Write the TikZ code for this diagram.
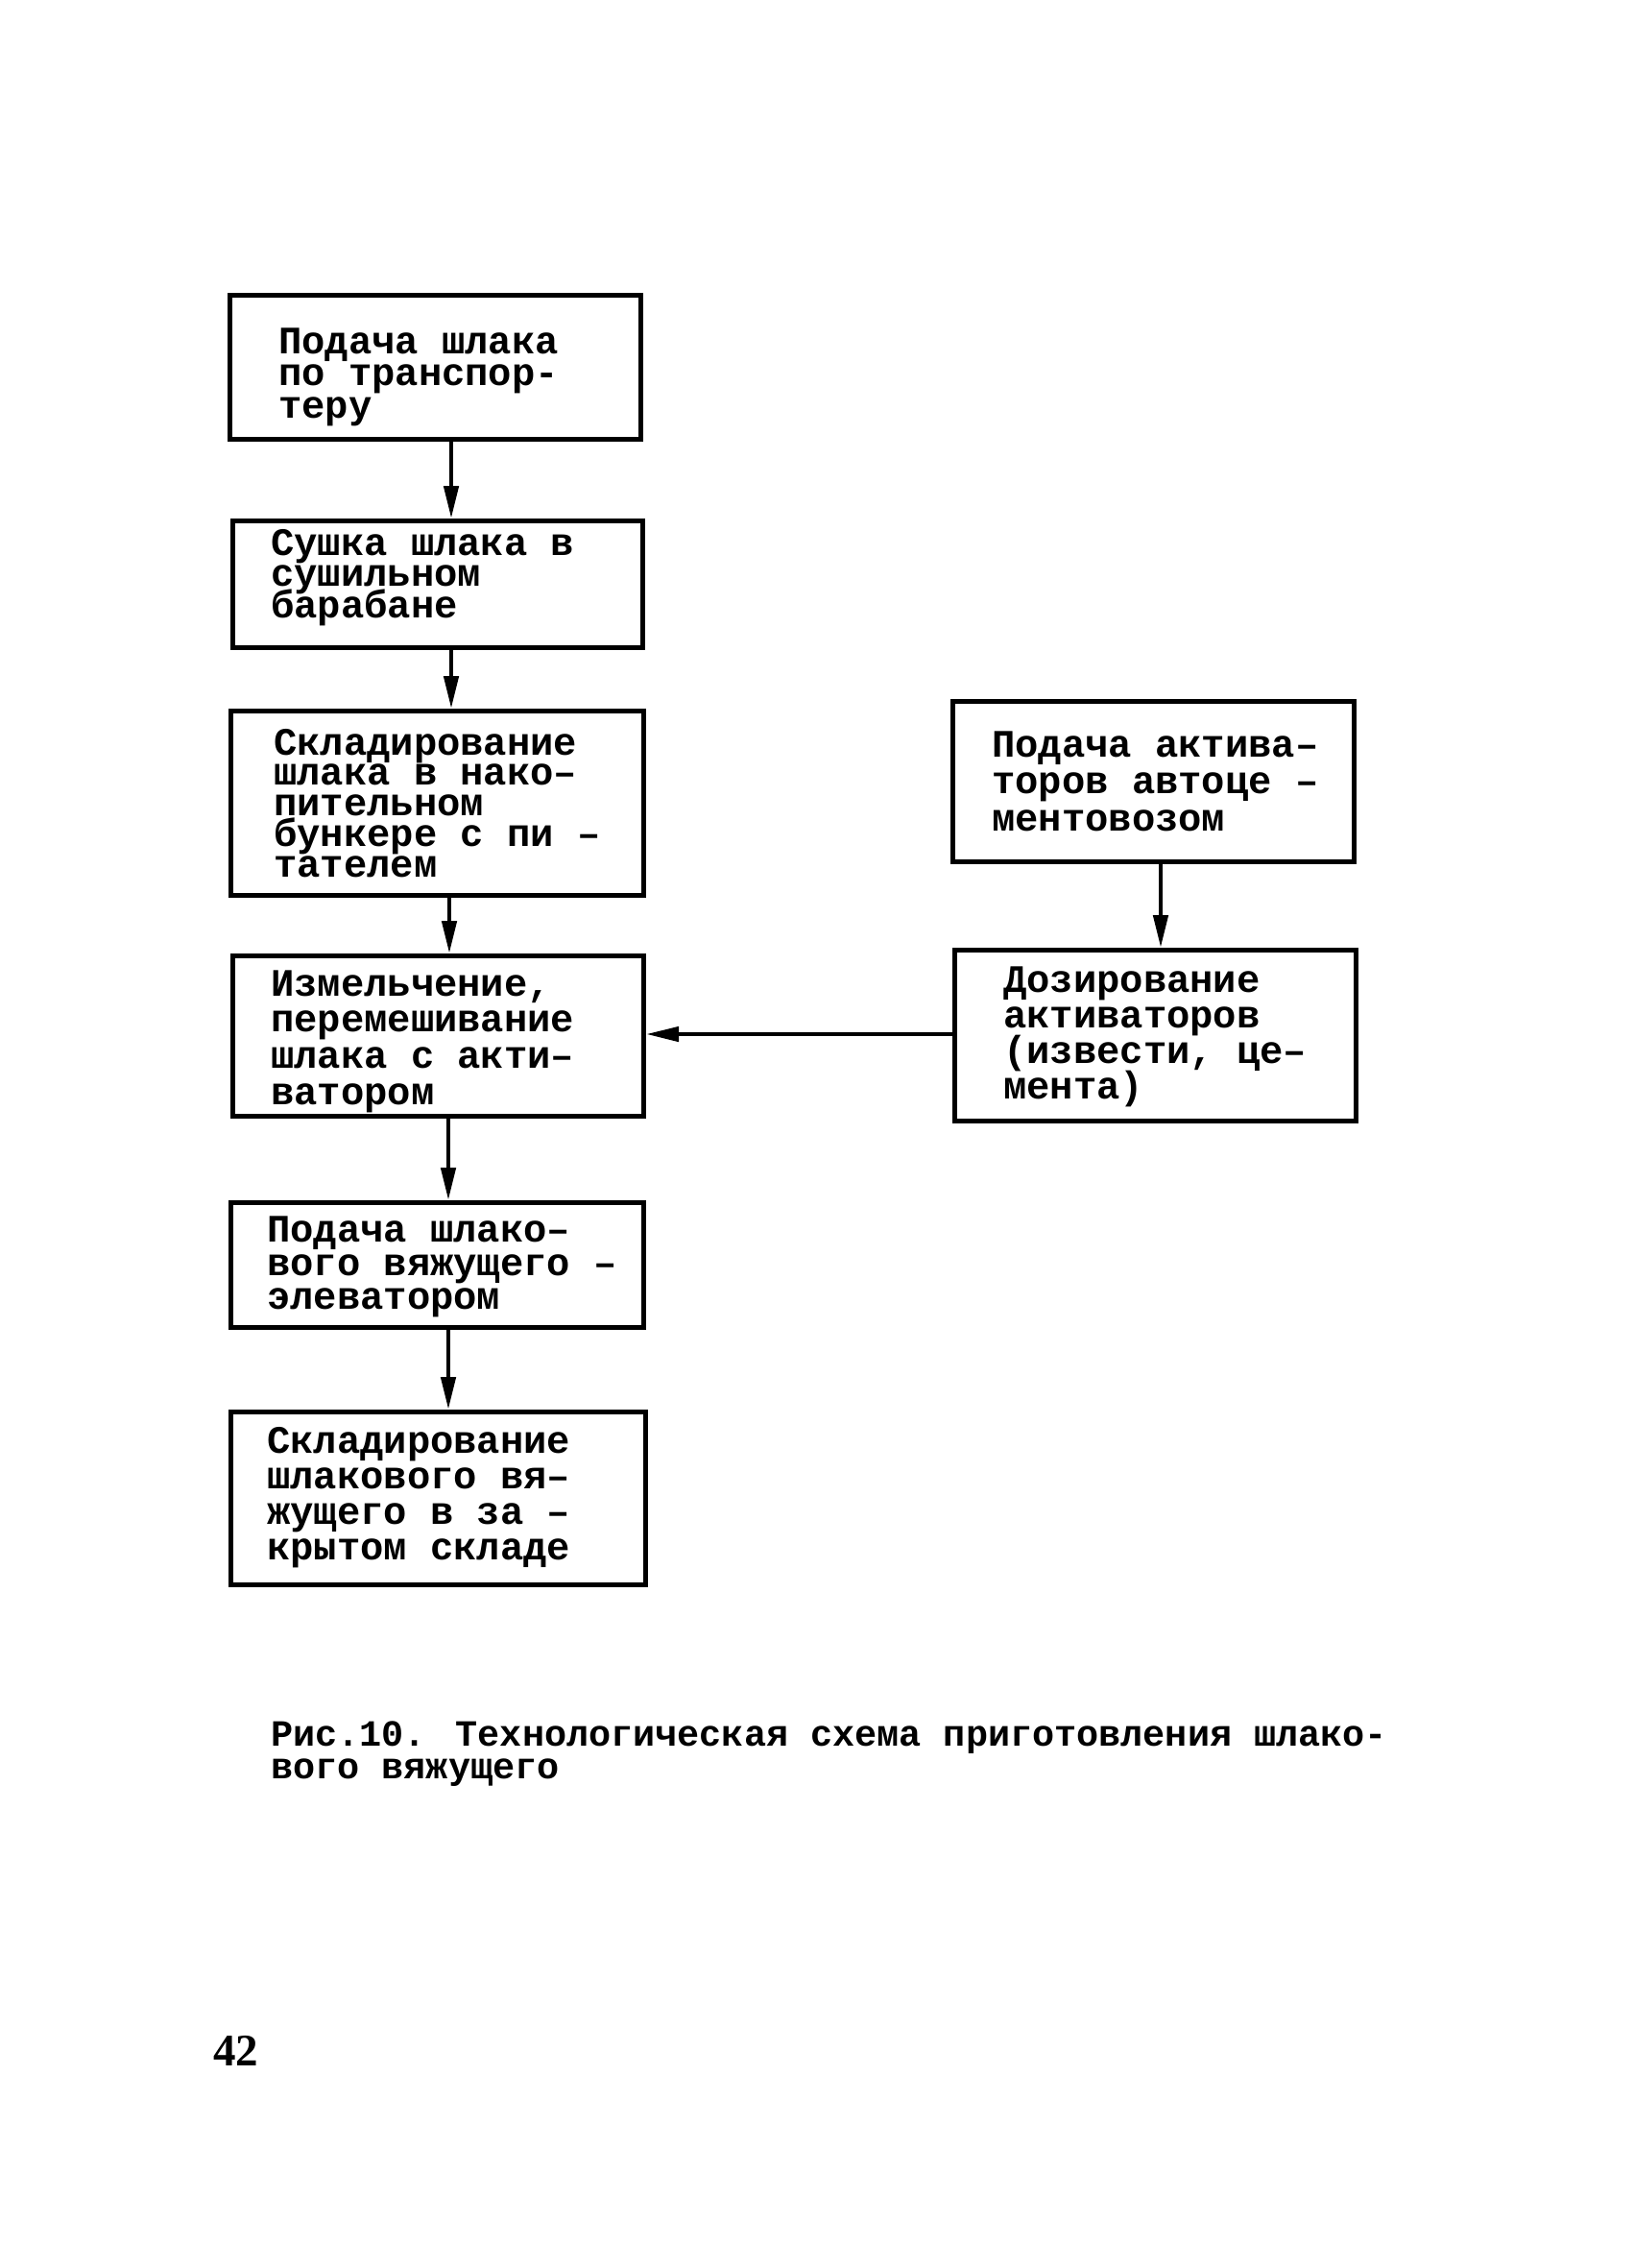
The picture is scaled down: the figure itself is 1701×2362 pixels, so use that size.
\documentclass[tikz,border=0pt]{standalone}
\usepackage{fontspec}
\setmainfont{Liberation Serif}
\newfontfamily\boxfont{Liberation Mono}
\usetikzlibrary{arrows.meta}
\newcommand\TL[2]{\vtop{\baselineskip=#1pt\lineskiplimit=-1000pt\lineskip=0pt\relax #2}}
\begin{document}
\begin{tikzpicture}[x=1pt,y=-1pt,
  box/.style={draw, line width=5pt, inner sep=0pt, rectangle},
  txt/.style={anchor=base west, inner sep=0pt, font=\boxfont\bfseries\fontsize{40.5}{40}\selectfont},
  arr/.style={line width=4.5pt, -{Triangle[length=34pt,width=15pt]}}]
\useasboundingbox (0,0) rectangle (1701,2362);
% boxes
\node[box, minimum width=428pt, minimum height=150pt] (b1) at (453.5,382.5) {};
\node[box, minimum width=427pt, minimum height=132pt] (b2) at (456,608.5) {};
\node[box, minimum width=430pt, minimum height=192pt] (b3) at (455.5,836.5) {};
\node[box, minimum width=428pt, minimum height=167pt] (b4) at (456.5,1079) {};
\node[box, minimum width=430pt, minimum height=130pt] (b5) at (455.5,1317.5) {};
\node[box, minimum width=432pt, minimum height=180pt] (b6) at (456.5,1560.5) {};
\node[box, minimum width=418pt, minimum height=167pt] (b7) at (1201.5,814) {};
\node[box, minimum width=418pt, minimum height=178pt] (b8) at (1203.5,1078.5) {};
% texts
\node[txt] (t1) at (290,368) {\TL{33.5}{\hbox{Подача шлака}\hbox{по транспор-}\hbox{теру}}};
\node[txt] (t2) at (282,578) {\TL{32.5}{\hbox{Сушка шлака в}\hbox{сушильном}\hbox{барабане}}};
\node[txt] (t3) at (285,786) {\TL{31.75}{\hbox{Складирование}\hbox{шлака в нако–}\hbox{пительном}\hbox{бункере с пи –}\hbox{тателем}}};
\node[txt] (t4) at (282,1037) {\TL{37.7}{\hbox{Измельчение,}\hbox{перемешивание}\hbox{шлака с акти–}\hbox{ватором}}};
\node[txt] (t5) at (278,1293) {\TL{35}{\hbox{Подача шлако–}\hbox{вого вяжущего –}\hbox{элеватором}}};
\node[txt] (t6) at (278,1513) {\TL{37.3}{\hbox{Складирование}\hbox{шлакового вя–}\hbox{жущего в за –}\hbox{крытом складе}}};
\node[txt] (t7) at (1033,788) {\TL{38.5}{\hbox{Подача актива–}\hbox{торов автоце –}\hbox{ментовозом}}};
\node[txt] (t8) at (1045,1033) {\TL{37.3}{\hbox{Дозирование}\hbox{активаторов}\hbox{(извести, це–}\hbox{мента)}}};
% connectors
\coordinate (xa) at (470,0);
\coordinate (xb) at (468,0);
\coordinate (xc) at (467,0);
\coordinate (xr) at (1209,0);
\coordinate (yh) at (0,1077);
\draw[arr] (b1.south -| xa) -- (b2.north -| xa);
\draw[arr] (b2.south -| xa) -- (b3.north -| xa);
\draw[arr] (b3.south -| xb) -- (b4.north -| xb);
\draw[arr] (b4.south -| xc) -- (b5.north -| xc);
\draw[arr] (b5.south -| xc) -- (b6.north -| xc);
\draw[arr] (b7.south -| xr) -- (b8.north -| xr);
\draw[arr] (b8.west |- yh) -- (b4.east |- yh);
% caption and page number
\node[anchor=base west, inner sep=0pt, font=\boxfont\bfseries\fontsize{38.5}{34}\selectfont] (cap) at (282,1818)
  {\TL{34}{\hbox{Рис.10. Технологическая схема приготовления шлако-}\hbox{вого вяжущего}}};
\node[anchor=base west, inner sep=0pt, font=\bfseries\fontsize{47}{47}\selectfont] (pg) at (222,2151) {42};
\end{tikzpicture}
\end{document}
